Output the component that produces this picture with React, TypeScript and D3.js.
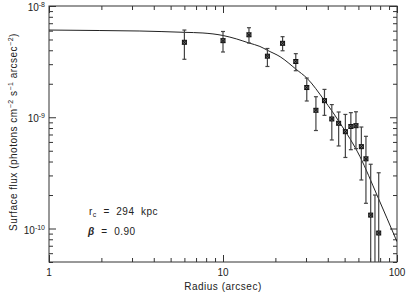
import { useEffect, useRef } from 'react';
import * as d3 from 'd3';

// measured points (radius in arcsec, surface flux with upper / lower error ends)
const radius = [6.0, 10.0, 14.1, 18.0, 22.0, 26.2, 30.3, 34.2, 38.3, 42.2, 46.2, 50.5, 54.3, 58.1, 62.4, 66.3, 70.6, 74.7, 78.5];
const flux = [4.72e-9, 4.88e-9, 5.51e-9, 3.54e-9, 4.62e-9, 3.17e-9, 1.85e-9, 1.155e-9, 1.41e-9, 9.65e-10, 8.83e-10, 7.42e-10, 8.26e-10, 8.4e-10, 5.44e-10, 4.23e-10, 1.32e-10, 3.0e-11, 9.11e-11];
const fluxHi = [6.08e-9, 5.9e-9, 6.38e-9, 4.15e-9, 5.3e-9, 3.73e-9, 2.25e-9, 1.53e-9, 1.78e-9, 1.3e-9, 1.115e-9, 1.06e-9, 1.1e-9, 1.12e-9, 8.17e-10, 6.74e-10, 3.78e-10, 2.0e-10, 3.17e-10];
const fluxLo = [3.32e-9, 3.86e-9, 4.65e-9, 2.86e-9, 3.96e-9, 2.62e-9, 1.4e-9, 7.6e-10, 1.04e-9, 6.25e-10, 5.52e-10, 4.35e-10, 5.11e-10, 5.22e-10, 2.73e-10, 1.685e-10, 1e-12, 1e-12, 1e-12];

// beta-model fit line
const fitRadius = [1, 1.96, 3.33, 5.97, 7.67, 10, 12.0, 14.1, 16.3, 18.1, 21.3, 26.3, 30.4, 38.1, 47.0, 61.3, 76.7, 100];
const fitFlux = [6.08e-9, 6.02e-9, 5.96e-9, 5.8e-9, 5.72e-9, 5.43e-9, 5.05e-9, 4.65e-9, 4.33e-9, 3.98e-9, 3.5e-9, 2.7e-9, 2.24e-9, 1.43e-9, 8.88e-10, 4.42e-10, 2.0e-10, 7.61e-11];

const xMajor = [1, 10, 100];
const xLabels = ['1', '10', '100'];
const yMajor = [1e-8, 1e-9, 1e-10];
const yExponents = ['-8', '-9', '-10'];

const W = 415;
const H = 292;
const NB = '\u00A0';

const App = () => {
  const ref = useRef<SVGSVGElement | null>(null);

  useEffect(() => {
    if (!ref.current) return;
    const svg = d3.select(ref.current);
    svg.selectAll('*').remove();

    const margin = { top: 6, right: 18, bottom: 30, left: 49 };
    const x = d3.scaleLog().domain([1, 100]).range([margin.left, W - margin.right]);
    const y = d3.scaleLog().domain([5e-11, 1e-8]).range([H - margin.bottom, margin.top]);
    const [x0, x1] = x.range();
    const [y0, y1] = y.range();
    const ink = '#333';
    const font = 'Liberation Sans, Arial, sans-serif';

    svg.append('rect').attr('width', W).attr('height', H).attr('fill', '#fff');

    svg.append('defs').append('clipPath').attr('id', 'plot')
      .append('rect').attr('x', x0).attr('y', y1).attr('width', x1 - x0).attr('height', y0 - y1);

    // minor + major ticks, all pointing inward
    const minorX = x.ticks().filter(t => !xMajor.includes(t));
    const minorY = y.ticks().filter(t => !yMajor.some(m => Math.abs(m - t) / m < 1e-6));
    const tickLayer = svg.append('g').attr('stroke', ink).attr('stroke-width', 1);
    const addTicks = (axis: d3.Axis<any>, tr: string) => {
      const g = tickLayer.append('g').attr('transform', tr).call(axis);
      g.select('.domain').remove();
      g.selectAll('text').remove();
      g.selectAll('line').attr('stroke', ink);
    };
    addTicks(d3.axisBottom(x).tickValues(xMajor).tickSize(-7), `translate(0,${y0})`);
    addTicks(d3.axisBottom(x).tickValues(minorX).tickSize(-4), `translate(0,${y0})`);
    addTicks(d3.axisTop(x).tickValues(xMajor).tickSize(-7), `translate(0,${y1})`);
    addTicks(d3.axisTop(x).tickValues(minorX).tickSize(-4), `translate(0,${y1})`);
    addTicks(d3.axisLeft(y).tickValues(yMajor).tickSize(-7), `translate(${x0},0)`);
    addTicks(d3.axisLeft(y).tickValues(minorY).tickSize(-4), `translate(${x0},0)`);
    addTicks(d3.axisRight(y).tickValues(yMajor).tickSize(-7), `translate(${x1},0)`);
    addTicks(d3.axisRight(y).tickValues(minorY).tickSize(-4), `translate(${x1},0)`);

    // frame
    svg.append('rect')
      .attr('x', x0).attr('y', y1).attr('width', x1 - x0).attr('height', y0 - y1)
      .attr('fill', 'none').attr('stroke', ink).attr('stroke-width', 1);

    // x tick labels
    svg.append('g').selectAll('text').data(xMajor).enter().append('text')
      .attr('x', d => x(d)).attr('y', y0 + 14)
      .attr('text-anchor', 'middle')
      .style('font-family', font).style('font-size', '10px').attr('fill', '#222')
      .text((_, i) => xLabels[i]);

    // y tick labels: 10^n
    const yl = svg.append('g').selectAll('text').data(yMajor).enter().append('text')
      .attr('x', x0 - 4).attr('y', d => y(d) + 5)
      .attr('text-anchor', 'end')
      .style('font-family', font).style('font-size', '10px').attr('fill', '#222');
    yl.append('tspan').text('10');
    yl.append('tspan').attr('dy', -4).style('font-size', '7px').text((_, i) => yExponents[i]);

    // axis titles
    svg.append('text')
      .attr('x', (x0 + x1) / 2).attr('y', H - 2)
      .attr('text-anchor', 'middle')
      .style('font-family', font).style('font-size', '10px').style('letter-spacing', '0.5px')
      .attr('fill', '#222')
      .text('Radius (arcsec)');

    const yt = svg.append('text')
      .attr('transform', `translate(17,${(y0 + y1) / 2 - 2}) rotate(-90)`)
      .attr('text-anchor', 'middle')
      .style('font-family', font).style('font-size', '10px').style('letter-spacing', '0.5px')
      .attr('fill', '#222');
    yt.append('tspan').text('Surface flux (photons cm');
    yt.append('tspan').attr('dy', -4).style('font-size', '7px').text('\u22122');
    yt.append('tspan').attr('dy', 4).text(`${NB}s`);
    yt.append('tspan').attr('dy', -4).style('font-size', '7px').text('\u22121');
    yt.append('tspan').attr('dy', 4).text(`${NB}arcsec`);
    yt.append('tspan').attr('dy', -4).style('font-size', '7px').text('\u22122');
    yt.append('tspan').attr('dy', 4).text(')');

    const plot = svg.append('g').attr('clip-path', 'url(#plot)');

    // fit curve
    const line = d3.line<number>()
      .x((_, i) => x(fitRadius[i]))
      .y(d => y(d))
      .curve(d3.curveMonotoneX);
    plot.append('path').datum(fitFlux)
      .attr('fill', 'none').attr('stroke', '#222').attr('stroke-width', 1)
      .attr('d', line);

    // error bars
    const bars = plot.append('g').attr('stroke', '#444').attr('stroke-width', 1.2);
    radius.forEach((r, i) => {
      const cx = x(r);
      bars.append('line').attr('x1', cx).attr('x2', cx).attr('y1', y(fluxHi[i])).attr('y2', y(fluxLo[i]));
      bars.append('line').attr('x1', cx - 2).attr('x2', cx + 2).attr('y1', y(fluxHi[i])).attr('y2', y(fluxHi[i]));
      bars.append('line').attr('x1', cx - 2).attr('x2', cx + 2).attr('y1', y(fluxLo[i])).attr('y2', y(fluxLo[i]));
    });

    // markers: small boxed crosses
    const marks = plot.append('g').attr('stroke', '#111').attr('stroke-width', 1).attr('fill', '#777');
    radius.forEach((r, i) => {
      const cx = x(r);
      const cy = y(flux[i]);
      marks.append('rect').attr('x', cx - 2).attr('y', cy - 2).attr('width', 4).attr('height', 4);
      marks.append('path').attr('d', `M${cx - 2},${cy - 2}L${cx + 2},${cy + 2}M${cx + 2},${cy - 2}L${cx - 2},${cy + 2}`);
    });

    // annotation
    const ann = svg.append('g').style('font-family', font).style('font-size', '10px')
      .style('letter-spacing', '0.5px').attr('fill', '#222');
    const rc = ann.append('text').attr('x', 89).attr('y', 215);
    rc.append('tspan').text('r');
    rc.append('tspan').attr('dy', 2).style('font-size', '7px').text('c');
    rc.append('tspan').attr('dy', -2).text(`${NB}${NB}=${NB}${NB}294${NB}${NB}kpc`);
    const beta = ann.append('text').attr('x', 88).attr('y', 235);
    beta.append('tspan').style('font-weight', 'bold').style('font-style', 'italic').text('\u03B2');
    beta.append('tspan').text(`${NB}${NB}=${NB}${NB}0.90`);

    return () => {
      svg.selectAll('*').remove();
    };
  }, []);

  return (
    <div style={{ position: 'absolute', left: 0, top: 0 }}>
      <svg ref={ref} width={W} height={H} style={{ display: 'block' }}></svg>
    </div>
  );
};

export default App;
